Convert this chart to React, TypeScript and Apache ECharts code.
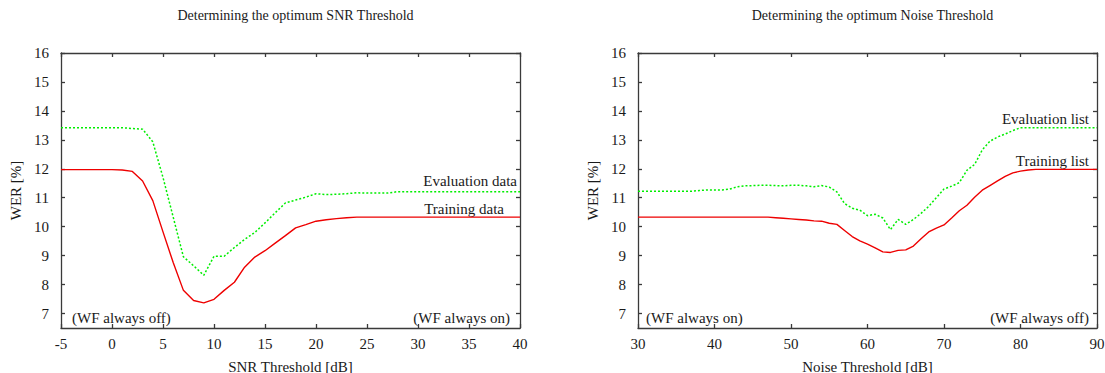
import React, { useEffect, useRef } from "react";
import * as echarts from "echarts";

const snrX = [-5, -4, -3, -2, -1, 0, 1, 2, 3, 4, 5, 6, 7, 8, 9, 10, 11, 12, 13, 14, 15, 16, 17, 18, 19, 20, 21, 22, 23, 24, 25, 26, 27, 28, 29, 30, 31, 32, 33, 34, 35, 36, 37, 38, 39, 40];
const snrTraining = [11.97, 11.97, 11.97, 11.97, 11.97, 11.97, 11.96, 11.91, 11.58, 10.9, 9.82, 8.76, 7.8, 7.45, 7.37, 7.49, 7.8, 8.08, 8.6, 8.95, 9.17, 9.43, 9.69, 9.96, 10.07, 10.19, 10.24, 10.28, 10.31, 10.33, 10.33, 10.33, 10.33, 10.33, 10.33, 10.33, 10.33, 10.33, 10.33, 10.33, 10.33, 10.33, 10.33, 10.33, 10.33, 10.33];
const snrEvaluation = [13.42, 13.42, 13.42, 13.42, 13.42, 13.42, 13.42, 13.39, 13.37, 12.93, 11.7, 10.33, 8.96, 8.65, 8.32, 8.98, 8.98, 9.28, 9.56, 9.8, 10.13, 10.48, 10.82, 10.92, 11.02, 11.14, 11.11, 11.12, 11.14, 11.17, 11.16, 11.16, 11.16, 11.21, 11.21, 11.21, 11.21, 11.21, 11.21, 11.21, 11.21, 11.21, 11.21, 11.21, 11.21, 11.21];

const noiseX = [30, 31, 32, 33, 34, 35, 36, 37, 38, 39, 40, 41, 42, 43, 44, 45, 46, 47, 48, 49, 50, 51, 52, 53, 54, 55, 56, 57, 58, 59, 60, 61, 62, 63, 64, 65, 66, 67, 68, 69, 70, 71, 72, 73, 74, 75, 76, 77, 78, 79, 80, 81, 82, 83, 84, 85, 86, 87, 88, 89, 90];
const noiseTraining = [10.33, 10.33, 10.33, 10.33, 10.33, 10.33, 10.33, 10.33, 10.33, 10.33, 10.33, 10.33, 10.33, 10.33, 10.33, 10.33, 10.33, 10.33, 10.31, 10.29, 10.27, 10.25, 10.23, 10.2, 10.19, 10.12, 10.08, 9.87, 9.66, 9.51, 9.4, 9.27, 9.13, 9.11, 9.18, 9.2, 9.33, 9.58, 9.82, 9.95, 10.06, 10.3, 10.55, 10.74, 11.02, 11.26, 11.42, 11.58, 11.74, 11.86, 11.92, 11.96, 11.98, 11.98, 11.98, 11.98, 11.98, 11.98, 11.98, 11.98, 11.98];
const noiseEvaluation = [11.22, 11.22, 11.22, 11.22, 11.22, 11.22, 11.22, 11.22, 11.25, 11.27, 11.27, 11.27, 11.3, 11.38, 11.41, 11.42, 11.43, 11.43, 11.42, 11.41, 11.43, 11.43, 11.41, 11.38, 11.42, 11.37, 11.2, 10.8, 10.64, 10.57, 10.38, 10.43, 10.3, 9.9, 10.25, 10.08, 10.25, 10.46, 10.7, 11.0, 11.3, 11.4, 11.52, 11.95, 12.15, 12.65, 12.95, 13.1, 13.2, 13.32, 13.42, 13.42, 13.42, 13.42, 13.42, 13.42, 13.42, 13.42, 13.42, 13.42, 13.42];

const yTicks = [7, 8, 9, 10, 11, 12, 13, 14, 15, 16];

const titles = ["Determining the optimum SNR Threshold", "Determining the optimum Noise Threshold"];
const xNames = ["SNR Threshold [dB]", "Noise Threshold [dB]"];
const yName = "WER [%]";
const seriesNames = [
  ["Training data", "Evaluation data"],
  ["Training list", "Evaluation list"],
];
const notes = [
  ["(WF always off)", "(WF always on)"],
  ["(WF always on)", "(WF always off)"],
];

const FONT = "Liberation Serif";
const TXT = "#1a1a1a";
const AXIS = "#3a3a3a";

export default function App() {
  const ref = useRef<HTMLDivElement>(null);
  useEffect(() => {
    document.body.style.margin = "0";
    if (!ref.current) return;
    const chart = echarts.init(ref.current, null, { renderer: "svg" });

    const grids = [
      { left: 61, top: 53, width: 459, height: 275, containLabel: false, outerBoundsMode: "none" },
      { left: 638, top: 53, width: 459, height: 275, containLabel: false, outerBoundsMode: "none" },
    ];
    const xRanges = [
      { min: -5, max: 40, interval: 5 },
      { min: 30, max: 90, interval: 10 },
    ];
    const labelStyle = { fontFamily: FONT, fontSize: 15, color: TXT };
    const lineStyle = { color: AXIS, width: 1.3 };

    const xAxis: any[] = [];
    const yAxis: any[] = [];
    [0, 1].forEach((g) => {
      xAxis.push({
        type: "value",
        gridIndex: g,
        ...xRanges[g],
        position: "bottom",
        name: xNames[g],
        nameLocation: "middle",
        nameGap: 31,
        nameTextStyle: labelStyle,
        axisLine: { show: true, onZero: false, lineStyle },
        axisTick: { show: true, inside: true, length: 4, lineStyle },
        axisLabel: { ...labelStyle, margin: 8 },
        splitLine: { show: false },
      });
      xAxis.push({
        type: "value",
        gridIndex: g,
        ...xRanges[g],
        position: "top",
        axisLine: { show: true, onZero: false, lineStyle },
        axisTick: { show: true, inside: true, length: 4, lineStyle },
        axisLabel: { show: false },
        splitLine: { show: false },
      });
      yAxis.push({
        type: "value",
        gridIndex: g,
        min: 6.5,
        max: 16,
        position: "left",
        name: yName,
        nameLocation: "middle",
        nameGap: 38,
        nameRotate: 90,
        nameTextStyle: labelStyle,
        axisLine: { show: true, onZero: false, lineStyle },
        axisTick: { show: true, inside: true, length: 4, lineStyle, customValues: yTicks },
        axisLabel: { ...labelStyle, margin: 12, customValues: yTicks },
        splitLine: { show: false },
      });
      yAxis.push({
        type: "value",
        gridIndex: g,
        min: 6.5,
        max: 16,
        position: "right",
        axisLine: { show: true, onZero: false, lineStyle },
        axisTick: { show: true, inside: true, length: 4, lineStyle, customValues: yTicks },
        axisLabel: { show: false, customValues: yTicks },
        splitLine: { show: false },
      });
    });

    const datasets = [
      { x: snrX, train: snrTraining, evalv: snrEvaluation },
      { x: noiseX, train: noiseTraining, evalv: noiseEvaluation },
    ];
    const series: any[] = [];
    datasets.forEach((d, g) => {
      series.push({
        type: "line",
        name: seriesNames[g][1],
        xAxisIndex: g * 2,
        yAxisIndex: g * 2,
        data: d.x.map((x, i) => [x, d.evalv[i]]),
        showSymbol: false,
        symbol: "none",
        lineStyle: { color: "#00ee00", width: 1.5, type: [2, 2] },
      });
      series.push({
        type: "line",
        name: seriesNames[g][0],
        xAxisIndex: g * 2,
        yAxisIndex: g * 2,
        data: d.x.map((x, i) => [x, d.train[i]]),
        showSymbol: false,
        symbol: "none",
        lineStyle: { color: "#ee0000", width: 1.4 },
      });
    });

    const txt = (text: string, x: number, y: number, align: string) => ({
      type: "text",
      x,
      y,
      style: {
        text,
        fill: TXT,
        fontFamily: FONT,
        fontSize: 15,
        align,
        verticalAlign: "middle",
      },
    });

    chart.setOption({
      animation: false,
      backgroundColor: "#ffffff",
      title: titles.map((t, g) => ({
        text: t,
        left: grids[g].left + grids[g].width / 2,
        textAlign: "center",
        top: 3,
        textStyle: { fontFamily: FONT, fontSize: 14, fontWeight: "normal", color: TXT },
      })),
      grid: grids,
      xAxis,
      yAxis,
      series,
      graphic: [
        txt(seriesNames[0][1], 517, 181, "right"),
        txt(seriesNames[0][0], 504, 209, "right"),
        txt(seriesNames[1][1], 1089, 119, "right"),
        txt(seriesNames[1][0], 1089, 161, "right"),
        txt(notes[0][0], 72, 318, "left"),
        txt(notes[0][1], 510, 318, "right"),
        txt(notes[1][0], 646, 318, "left"),
        txt(notes[1][1], 1089, 318, "right"),
      ],
    });
    return () => chart.dispose();
  }, []);
  return <div ref={ref} style={{ width: 1105, height: 373 }} />;
}
